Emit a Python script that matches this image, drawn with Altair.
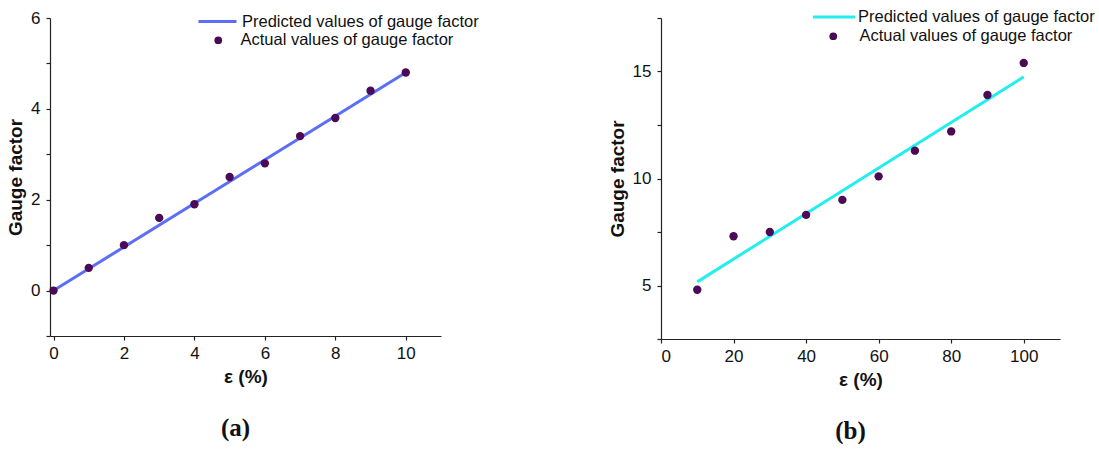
import altair as alt
import pandas as pd

# ---- data ----
strain_a = [0, 1, 2, 3, 4, 5, 6, 7, 8, 9, 10]
actual_a = [0.0, 0.5, 1.0, 1.6, 1.9, 2.5, 2.8, 3.4, 3.8, 4.4, 4.8]
pred_a_x = [0, 10]
pred_a_y = [0.0, 4.8]

strain_b = [10, 20, 30, 40, 50, 60, 70, 80, 90, 100]
actual_b = [4.8, 7.3, 7.5, 8.3, 9.0, 10.1, 11.3, 12.2, 13.9, 15.4]
pred_b_x = [10, 100]
pred_b_y = [5.17, 14.75]

PRED = "Predicted values of gauge factor"
ACT = "Actual values of gauge factor"

FONT = "Liberation Sans"
AXIS_COLOR = "#222222"
TEXT_COLOR = "#111111"
PURPLE = "#4b0a55"
LINE_PATH = "M-2.5,0L2.5,0"


def axis(title, values, expr, tick_pad, title_pad):
    return alt.Axis(title=title, values=values, labelExpr=expr, grid=False,
                    tickSize=4, labelPadding=tick_pad, titlePadding=title_pad,
                    labelFont=FONT, labelFontSize=17, labelColor=TEXT_COLOR,
                    titleFont=FONT, titleFontSize=19, titleFontWeight="bold",
                    titleColor=TEXT_COLOR, domainColor=AXIS_COLOR,
                    tickColor=AXIS_COLOR, domainWidth=1.2, tickWidth=1.2)


def panel(sx, sy, px, py, line_color, xdom, ydom, xticks, yticks,
          xlab_expr, ylab_expr, w, h, caption, leg_line, leg_dot):
    df_pts = pd.DataFrame({"x": sx, "y": sy, "s": [ACT] * len(sx)})
    df_ln = pd.DataFrame({"x": px, "y": py, "s": [PRED] * len(px)})

    xenc = alt.X("x:Q", scale=alt.Scale(domain=xdom, nice=False, zero=False),
                 axis=axis("ε (%)", xticks, xlab_expr, 5, 6))
    yenc = alt.Y("y:Q", scale=alt.Scale(domain=ydom, nice=False, zero=False),
                 axis=axis("Gauge factor", yticks, ylab_expr, 6, 5))

    line = alt.Chart(df_ln).mark_line(strokeWidth=3).encode(
        x=xenc, y=yenc,
        stroke=alt.Stroke("s:N", scale=alt.Scale(domain=[PRED], range=[line_color]),
                          legend=alt.Legend(title=None, orient="none",
                                            legendX=leg_line[0], legendY=leg_line[1],
                                            symbolType=LINE_PATH, symbolStrokeWidth=3,
                                            symbolSize=leg_line[2],
                                            labelFont=FONT, labelFontSize=16.5,
                                            labelColor=TEXT_COLOR, labelLimit=400,
                                            labelOffset=leg_line[3], padding=0)),
    )
    pts = alt.Chart(df_pts).mark_circle(size=70, opacity=1).encode(
        x="x:Q", y="y:Q",
        color=alt.Color("s:N", scale=alt.Scale(domain=[ACT], range=[PURPLE]),
                        legend=alt.Legend(title=None, orient="none",
                                          legendX=leg_dot[0], legendY=leg_dot[1],
                                          symbolType="circle", symbolSize=60,
                                          symbolOpacity=1,
                                          labelFont=FONT, labelFontSize=16.5,
                                          labelColor=TEXT_COLOR, labelLimit=400,
                                          labelOffset=leg_dot[2], padding=0)),
    )
    return alt.layer(line, pts).resolve_scale(color="independent", stroke="independent").properties(
        width=w, height=h,
        title=alt.TitleParams(caption, orient="bottom", font="Liberation Serif",
                              fontSize=25, fontWeight="bold", color=TEXT_COLOR,
                              anchor="middle", frame="group", dx=-10, offset=30),
    )


a = panel(strain_a, actual_a, pred_a_x, pred_a_y, "#5b6ef5",
          [-0.1, 11], [-1, 6], list(range(0, 12)), list(range(-1, 7)),
          "datum.value % 2 == 0 && datum.value <= 10 ? datum.label : ''",
          "datum.value % 2 == 0 && datum.value >= 0 ? datum.label : ''",
          391, 318, "(a)", (158, -6, 231, 15), (160, 14, 14))

b = panel(strain_b, actual_b, pred_b_x, pred_b_y, "#22eef0",
          [0, 110], [2.5, 17.5], list(range(0, 111, 10)), [2.5, 5, 7.5, 10, 12.5, 15, 17.5],
          "datum.value % 20 == 0 && datum.value <= 100 ? datum.label : ''",
          "datum.value % 5 == 0 ? datum.label : ''",
          399, 321, "(b)", (163, -11, 282, 14), (164, 10, 18))

chart = alt.hconcat(a, b, spacing=129).resolve_scale(
    color="independent", stroke="independent", x="independent", y="independent"
).properties(
    padding={"left": 6, "top": 7, "right": 0, "bottom": 0},
    background="white",
).configure_view(stroke=None)

chart.save("out.html", embed_options={"renderer": "svg", "actions": False})
